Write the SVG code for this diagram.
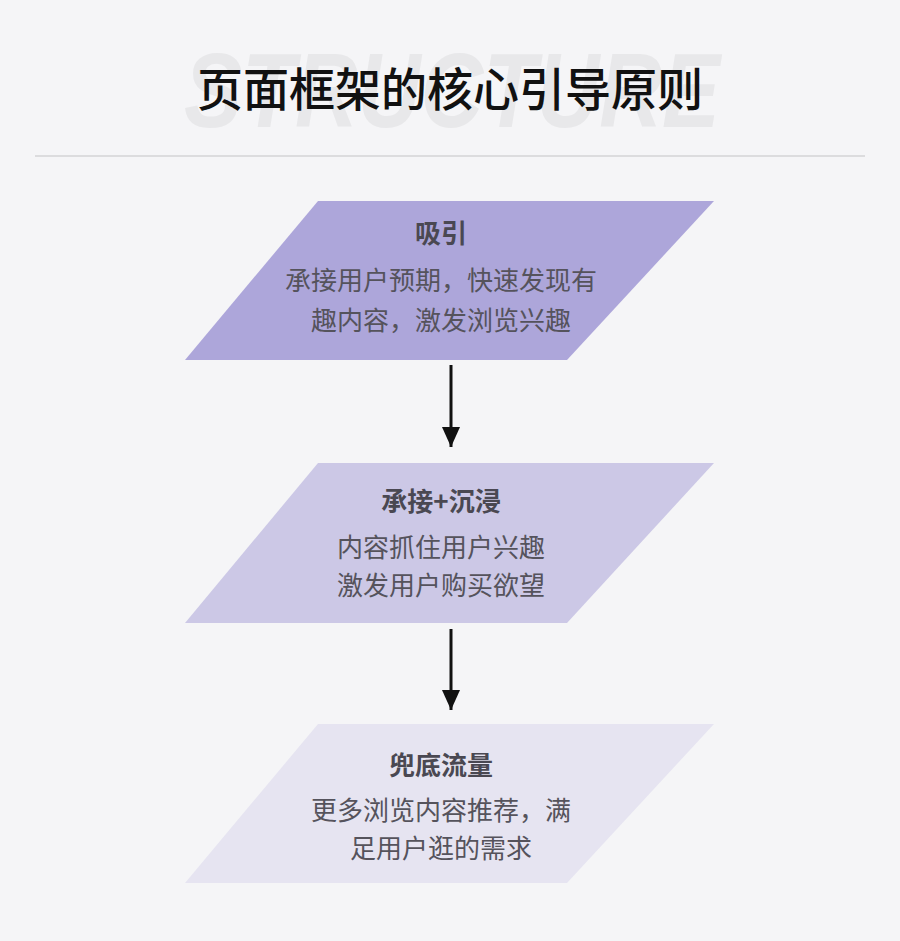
<svg xmlns="http://www.w3.org/2000/svg" width="900" height="941" viewBox="0 0 900 941">
<defs>
<style>
.t{font-family:"Noto Sans CJK SC","Noto Sans",sans-serif;text-anchor:middle}
.h{font-size:26px;font-weight:700;fill:#4a4852}
.b{font-size:26px;fill:#55535c}
.c{stroke:#111;stroke-width:3;fill:none}
</style>
<marker id="a" viewBox="0 0 10 10" refX="10" refY="5" markerWidth="20" markerHeight="20" markerUnits="userSpaceOnUse" orient="auto"><path d="M0,0.5L10,5L0,9.5z" fill="#111"/></marker>
</defs>
<rect width="900" height="941" fill="#f5f5f7"/>
<text x="452" y="127" font-family="Liberation Sans,Arial,sans-serif" font-size="106" font-weight="700" font-style="italic" fill="#e8e8ea" text-anchor="middle" textLength="536" lengthAdjust="spacingAndGlyphs">STRUCTURE</text>
<text x="450" y="106" class="t" font-size="46" font-weight="500" fill="#111">页面框架的核心引导原则</text>
<line x1="35" y1="156" x2="865" y2="156" stroke="#dcdcde" stroke-width="2"/>
<g id="n1">
<polygon points="318,201 714,201 567,360 185,360" fill="#ada6da"/>
<text x="441" y="243" class="t h">吸引</text>
<text x="441" y="290" class="t b">承接用户预期，快速发现有</text>
<text x="441" y="330" class="t b">趣内容，激发浏览兴趣</text>
</g>
<g id="n2">
<polygon points="318,463 714,463 567,623 185,623" fill="#ccc8e6"/>
<text x="441" y="511" class="t h">承接+沉浸</text>
<text x="441" y="557" class="t b">内容抓住用户兴趣</text>
<text x="441" y="595" class="t b">激发用户购买欲望</text>
</g>
<g id="n3">
<polygon points="318,724 714,724 567,883 185,883" fill="#e6e4f1"/>
<text x="441" y="775" class="t h">兜底流量</text>
<text x="441" y="820" class="t b">更多浏览内容推荐，满</text>
<text x="441" y="858" class="t b">足用户逛的需求</text>
</g>
<g id="connectors">
<line x1="451" y1="365" x2="451" y2="447" class="c" marker-end="url(#a)"/>
<line x1="451" y1="629" x2="451" y2="710" class="c" marker-end="url(#a)"/>
</g>
</svg>
